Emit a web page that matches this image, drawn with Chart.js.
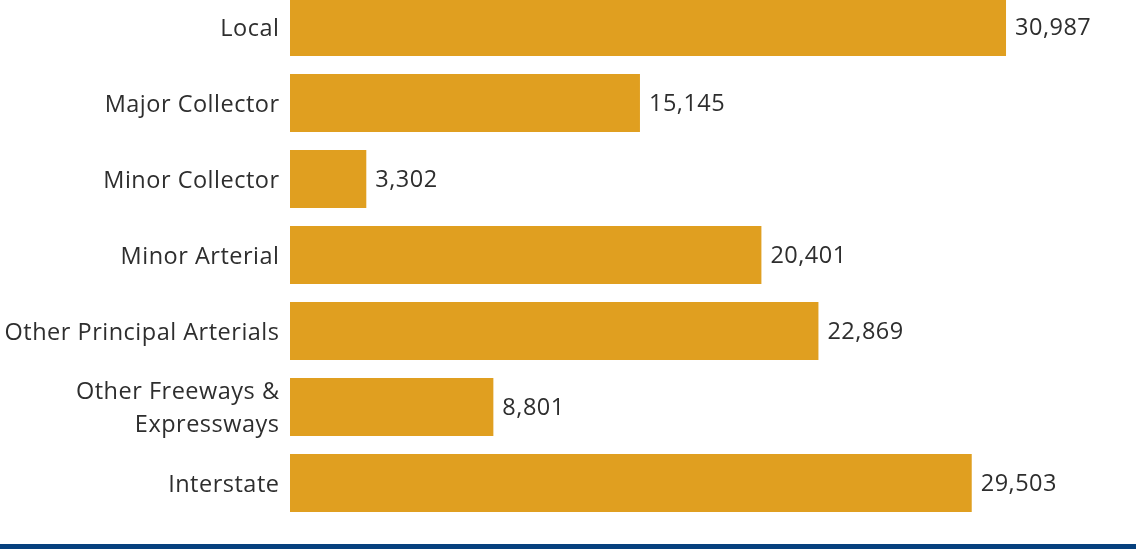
<!DOCTYPE html>
<html>
<head>
<meta charset="utf-8">
<script src="https://cdn.jsdelivr.net/npm/chart.js@4/dist/chart.umd.min.js"></script>
<style>
  html, body { margin: 0; padding: 0; background: #ffffff; overflow: hidden; }
  body { width: 1136px; height: 549px; position: relative; }
  #wrap { position: absolute; left: 0; top: -11px; width: 1136px; height: 532px; }
  #band { position: absolute; left: 0; top: 544px; width: 1136px; height: 5px; background: #06407E; }
</style>
</head>
<body>
<div id="wrap"><canvas id="c"></canvas></div>
<div id="band"></div>
<script>
const categories = ["Local", "Major Collector", "Minor Collector", "Minor Arterial", "Other Principal Arterials", ["Other Freeways &", "Expressways"], "Interstate"];
const values = [30987, 15145, 3302, 20401, 22869, 8801, 29503];

const FONT = '"Open Sans", "Noto Sans", sans-serif';
const TEXT = '#2e2e2e';
const FSIZE = 23.5;

const spacing = {
  id: 'spacing',
  beforeDraw(chart) {
    if ('letterSpacing' in chart.ctx) chart.ctx.letterSpacing = '0.5px';
  }
};

const valueLabels = {
  id: 'valueLabels',
  afterDatasetsDraw(chart) {
    const ctx = chart.ctx;
    const meta = chart.getDatasetMeta(0);
    ctx.save();
    ctx.font = FSIZE + 'px ' + FONT;
    ctx.fillStyle = TEXT;
    ctx.textAlign = 'left';
    ctx.textBaseline = 'middle';
    meta.data.forEach((bar, i) => {
      ctx.fillText(values[i].toLocaleString('en-US'), bar.x + 9, bar.y + 1.5);
    });
    ctx.restore();
  }
};

new Chart(document.getElementById('c'), {
  type: 'bar',
  data: {
    labels: categories,
    datasets: [{
      data: values,
      backgroundColor: '#E09F20',
      borderWidth: 0,
      barPercentage: 1,
      categoryPercentage: 0.763
    }]
  },
  options: {
    indexAxis: 'y',
    responsive: true,
    maintainAspectRatio: false,
    animation: false,
    layout: { padding: 0 },
    plugins: { legend: { display: false }, tooltip: { enabled: false } },
    scales: {
      x: { display: false, min: 0, max: 36612 },
      y: {
        grid: { display: false, drawTicks: false },
        border: { display: false },
        ticks: { color: TEXT, font: { family: FONT, size: FSIZE, lineHeight: 1.42 }, padding: 10.5, labelOffset: 2, autoSkip: false },
        afterFit(scale) {
          scale.width = 290;
          scale.paddingTop = 0;
          scale.paddingBottom = 0;
        }
      }
    }
  },
  plugins: [spacing, valueLabels]
});
</script>
</body>
</html>
